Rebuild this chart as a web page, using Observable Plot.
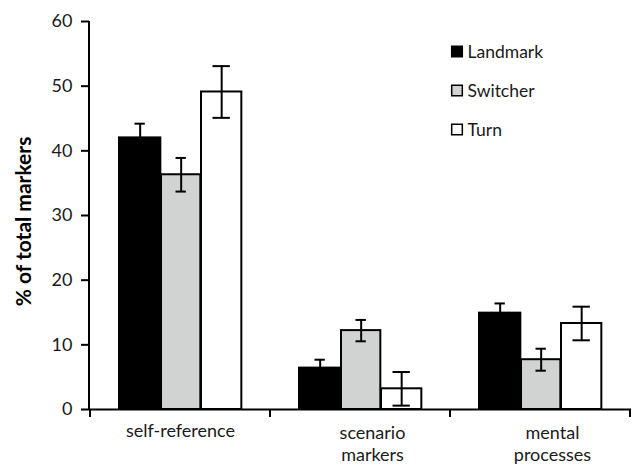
<!DOCTYPE html>
<html>
<head>
<meta charset="utf-8">
<script src="https://cdn.jsdelivr.net/npm/d3@7"></script>
<script src="https://cdn.jsdelivr.net/npm/@observablehq/plot@0.6"></script>
<style>
  html, body { margin: 0; padding: 0; background: #fff; }
  #chart { width: 638px; height: 465px; }
</style>
</head>
<body>
<div id="chart"></div>
<script>
// ---- data ----
const categories = ["self-reference", "scenario markers", "mental processes"];
const categoryLabels = ["self-reference", "scenario\nmarkers", "mental\nprocesses"];
const seriesNames = ["Landmark", "Switcher", "Turn"];
const seriesColors = ["#000000", "#d1d3d2", "#ffffff"];
const landmarkValues = [42.0, 6.4, 14.9];
const landmarkErrors = [2.2, 1.3, 1.5];
const switcherValues = [36.3, 12.2, 7.7];
const switcherErrors = [2.6, 1.65, 1.7];
const turnValues = [49.1, 3.2, 13.3];
const turnErrors = [4.0, 2.6, 2.6];
const yTicks = [0, 10, 20, 30, 40, 50, 60];
const yLabel = "% of total markers";

// ---- layout ----
const W = 638, H = 465;
const mL = 89, mR = 7, mT = 21, mB = 56;
const bw = (W - mL - mR) / categories.length;
// bar slots inside each category band [left, right] in px from band start
const slots = [[29, 71], [71, 111], [111, 152]];
const capWidths = [11, 11, 18];

const seriesValues = [landmarkValues, switcherValues, turnValues];
const seriesErrors = [landmarkErrors, switcherErrors, turnErrors];

const rows = seriesNames.map((s, i) => categories.map((c, j) => ({
  series: s, cat: c, value: seriesValues[i][j],
  lo: seriesValues[i][j] - seriesErrors[i][j],
  hi: seriesValues[i][j] + seriesErrors[i][j]
})));

const marks = [];
rows.forEach((data, i) => {
  const [a, b] = slots[i];
  marks.push(Plot.barY(data, {
    x: "cat", y: "value", fill: seriesColors[i], stroke: "#000", strokeWidth: 2,
    insetLeft: a, insetRight: bw - b
  }));
});
rows.forEach((data, i) => {
  const [a, b] = slots[i];
  const c = (a + b) / 2;
  const cw = capWidths[i];
  marks.push(Plot.ruleX(data, { x: "cat", y1: "lo", y2: "hi", dx: c - bw / 2, stroke: "#000", strokeWidth: 2 }));
  for (const key of ["lo", "hi"]) {
    marks.push(Plot.tickY(data, {
      x: "cat", y: key, stroke: "#000", strokeWidth: 2,
      insetLeft: c - cw / 2, insetRight: bw - c - cw / 2
    }));
  }
});

// axes
marks.push(Plot.ruleY([0], { stroke: "#000", strokeWidth: 2 }));
marks.push((index, scales, values, dims) => {
  const x = scales.x, y = scales.y;
  const band = typeof x.bandwidth === "function" ? x.bandwidth() : bw;
  const g = d3.create("svg:g").attr("stroke", "#000").attr("stroke-width", 2);
  g.append("line").attr("x1", dims.marginLeft).attr("x2", dims.marginLeft)
    .attr("y1", y(0) + 1).attr("y2", y(60));
  const edges = categories.map(c => x(c)).concat([x(categories[categories.length - 1]) + band]);
  g.selectAll("line.t").data(edges).join("line").attr("class", "t")
    .attr("x1", d => d).attr("x2", d => d).attr("y1", y(0)).attr("y2", y(0) + 8);
  return g.node();
});
marks.push(Plot.axisY({ ticks: yTicks, tickSize: 8, tickPadding: 9, strokeWidth: 2, fontSize: 18, label: null, fill: "#1a1a1a" }));

// category labels
const catRows = categories.map((c, j) => ({ cat: c, label: categoryLabels[j] }));
marks.push(Plot.text(catRows.filter(d => !d.label.includes("\n")), {
  x: "cat", text: "label", frameAnchor: "bottom", lineAnchor: "top", dy: 15, fontSize: 18, fill: "#1a1a1a"
}));
marks.push(Plot.text(catRows.filter(d => d.label.includes("\n")), {
  x: "cat", text: "label", frameAnchor: "bottom", lineAnchor: "top", dy: 15, dx: 12, lineHeight: 1.17, fontSize: 18, fill: "#1a1a1a"
}));

// y label
marks.push(Plot.text([yLabel], { frameAnchor: "left", textAnchor: "middle", lineAnchor: "middle", rotate: -90, dx: -65, dy: 6, fontWeight: "bold", fontSize: 21, fill: "#000" }));

// legend
seriesNames.forEach((s, i) => {
  marks.push(Plot.dot([s], { frameAnchor: "top-left", dx: 367.5, dy: 30 + 39 * i, symbol: "square", r: 6, fill: seriesColors[i], stroke: "#000", strokeWidth: 1.5 }));
  marks.push(Plot.text([s], { frameAnchor: "top-left", dx: 378, dy: 31 + 39 * i, textAnchor: "start", lineAnchor: "middle", fontSize: 17.5, fill: "#1a1a1a" }));
});

const chart = Plot.plot({
  width: W, height: H,
  marginLeft: mL, marginRight: mR, marginTop: mT, marginBottom: mB,
  style: { fontFamily: "Lato, sans-serif", background: "#fff" },
  x: { domain: categories, padding: 0, axis: null },
  y: { domain: [0, 60], axis: null },
  marks
});
document.getElementById("chart").append(chart);
</script>
</body>
</html>
